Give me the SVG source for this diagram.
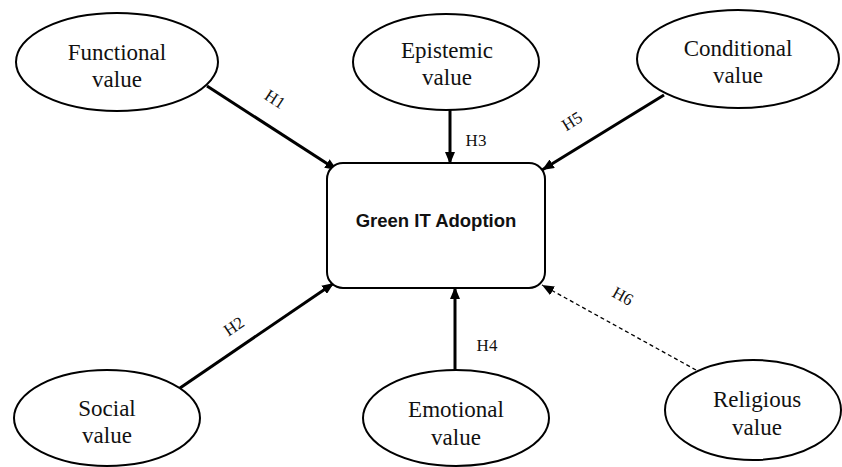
<svg xmlns="http://www.w3.org/2000/svg" width="842" height="467" viewBox="0 0 842 467">
<style>
.node ellipse{fill:#fff;stroke:#000;stroke-width:2}
.node rect{fill:#fff;stroke:#000;stroke-width:2}
.t{font-family:"Liberation Serif","Times New Roman",serif;font-size:23px;fill:#111;text-anchor:middle}
.lbl{font-family:"Liberation Serif","Times New Roman",serif;font-size:17px;fill:#111;text-anchor:middle}
.main{font-family:"Liberation Sans",Arial,sans-serif;font-size:18.5px;font-weight:bold;fill:#111;text-anchor:middle}
.c{stroke:#000;stroke-width:3;fill:none}
.d{stroke:#000;stroke-width:1.3;fill:none;stroke-dasharray:4 3}
</style>
<defs>
<marker id="ah" viewBox="0 0 12 10" refX="12" refY="5" markerWidth="12" markerHeight="10" markerUnits="userSpaceOnUse" orient="auto">
<path d="M0,0 L12,5 L0,10 z" fill="#000"/>
</marker>
</defs>
<rect width="842" height="467" fill="#fff"/>
<g id="connectors">
<line class="c" x1="207" y1="86" x2="337" y2="170" marker-end="url(#ah)"/>
<line class="c" x1="450" y1="110" x2="450" y2="164" marker-end="url(#ah)"/>
<line class="c" x1="664" y1="95" x2="542" y2="170" marker-end="url(#ah)"/>
<line class="c" x1="180" y1="388" x2="334" y2="283" marker-end="url(#ah)"/>
<line class="c" x1="455" y1="370" x2="455" y2="287" marker-end="url(#ah)"/>
<line class="d" x1="696" y1="370" x2="542" y2="285" marker-end="url(#ah)"/>
<text class="lbl" transform="translate(272,104) rotate(33)">H1</text>
<text class="lbl" x="476" y="146">H3</text>
<text class="lbl" transform="translate(575,126) rotate(-32)">H5</text>
<text class="lbl" transform="translate(237,331) rotate(-34)">H2</text>
<text class="lbl" x="487" y="351">H4</text>
<text class="lbl" transform="translate(620,301) rotate(29)">H6</text>
</g>
<g id="functional" class="node">
<ellipse cx="117" cy="62" rx="101" ry="49"/>
<text class="t" x="117" y="60">Functional</text>
<text class="t" x="117" y="87">value</text>
</g>
<g id="epistemic" class="node">
<ellipse cx="446" cy="62" rx="93" ry="48"/>
<text class="t" x="447" y="58">Epistemic</text>
<text class="t" x="447" y="85">value</text>
</g>
<g id="conditional" class="node">
<ellipse cx="738" cy="59" rx="101" ry="49"/>
<text class="t" x="738" y="56">Conditional</text>
<text class="t" x="738" y="83">value</text>
</g>
<g id="adoption" class="node">
<rect x="327" y="163" width="218" height="125" rx="16" ry="16"/>
<text class="main" x="436" y="227">Green IT Adoption</text>
</g>
<g id="social" class="node">
<ellipse cx="107" cy="418" rx="93" ry="48"/>
<text class="t" x="107" y="416">Social</text>
<text class="t" x="107" y="443">value</text>
</g>
<g id="emotional" class="node">
<ellipse cx="456" cy="418" rx="93" ry="48"/>
<text class="t" x="456" y="417">Emotional</text>
<text class="t" x="456" y="445">value</text>
</g>
<g id="religious" class="node">
<ellipse cx="753" cy="410" rx="88" ry="50"/>
<text class="t" x="757" y="407">Religious</text>
<text class="t" x="757" y="435">value</text>
</g>
</svg>
